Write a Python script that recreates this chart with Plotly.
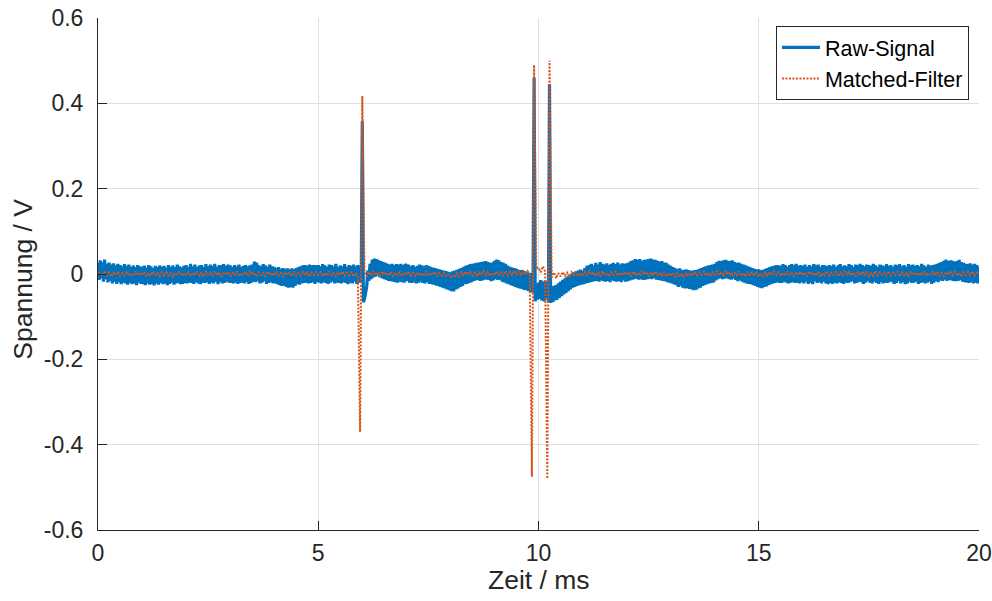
import plotly.graph_objects as go

# sample spacing of the two recordings (ms)
dt_raw_ms = 0.025
dt_mf_ms = 0.05

# Raw signal in mV, one row per 0.5 ms (20 samples / row), last sample at 20 ms
raw_mv = [
    26, -14, 32, -10, 28, -18, 34, -12, 24, -20, 27, -16, 22, -22, 25, -18, 20, -23, 24, -19,
    21, -24, 18, -20, 23, -22, 19, -25, 22, -21, 17, -24, 20, -22, 16, -26, 21, -20, 18, -23,
    17, -24, 20, -26, 15, -22, 21, -25, 18, -23, 14, -27, 19, -22, 16, -25, 20, -21, 17, -24,
    19, -22, 15, -26, 21, -23, 17, -20, 20, -25, 16, -22, 22, -21, 18, -24, 15, -23, 19, -21,
    21, -22, 17, -20, 24, -21, 18, -23, 22, -19, 16, -22, 20, -24, 21, -20, 17, -21, 23, -19,
    18, -23, 22, -20, 19, -22, 24, -18, 17, -24, 21, -19, 20, -22, 23, -21, 19, -18, 22, -20,
    20, -21, 17, -22, 21, -20, 18, -23, 22, -21, 17, -20, 19, -22, 21, -19, 18, -23, 20, -21,
    22, -18, 29, -19, 27, -17, 21, -22, 18, -20, 23, -17, 20, -23, 17, -21, 22, -19, 18, -22,
    17, -22, 14, -24, 16, -26, 12, -28, 14, -27, 12, -30, 13, -32, 11, -31, 13, -32, 11, -28,
    14, -24, 16, -25, 18, -22, 20, -21, 21, -20, 19, -22, 22, -21, 20, -19, 21, -23, 20, -19,
    21, -20, 18, -22, 23, -19, 20, -21, 17, -23, 22, -20, 21, -18, 18, -22, 24, -20, 17, -21,
    20, -22, 18, -19, 23, -21, 17, -24, 21, -20, 19, -22, 22, -18, 18, -23, 21, -20, 17, -21,
    358, -66, -58, -44, -30, 8, -16, 24, -12, 34, -8, 36, -6, 35, -4, 32, -8, 30, -10, 28,
    -12, 26, -14, 24, -16, 22, -17, 24, -18, 21, -19, 23, -20, 22, -18, 24, -19, 21, -20, 23,
    20, -17, 22, -20, 18, -21, 21, -19, 17, -22, 19, -20, 22, -18, 20, -21, 18, -22, 21, -19,
    19, -23, 17, -24, 15, -25, 14, -27, 12, -28, 11, -30, 9, -32, 8, -34, 7, -36, 5, -38,
    4, -40, 6, -41, 8, -36, 10, -34, 12, -30, 14, -28, 17, -24, 19, -23, 21, -21, 23, -19,
    24, -17, 25, -15, 26, -14, 27, -16, 28, -15, 29, -13, 30, -13, 28, -14, 26, -17, 27, -15,
    31, -12, 34, -14, 32, -13, 28, -18, 26, -20, 24, -22, 20, -24, 17, -26, 15, -28, 14, -30,
    12, -32, 10, -34, 9, -35, 7, -37, 6, -38, 4, -40, 3, -42, 2, -44, 460, -64, -40, -60,
    -20, -58, -14, -62, -18, -64, -16, -60, -20, -64, 445, -68, -30, -66, -28, -62, -26, -60, -22, -56,
    -18, -52, -14, -48, -10, -44, -6, -40, -2, -36, 0, -32, 4, -30, 6, -28, 8, -26, 10, -25,
    8, -24, 14, -22, 19, -21, 21, -19, 24, -18, 20, -17, 26, -16, 22, -18, 28, -15, 24, -17,
    22, -18, 25, -16, 21, -19, 24, -15, 26, -17, 23, -18, 27, -16, 22, -19, 25, -15, 24, -18,
    25, -17, 27, -15, 30, -13, 32, -12, 35, -11, 33, -13, 35, -12, 31, -14, 33, -13, 34, -12,
    35, -11, 36, -12, 34, -10, 33, -13, 31, -14, 29, -15, 30, -16, 27, -17, 26, -19, 22, -20,
    19, -22, 16, -24, 14, -26, 11, -30, 13, -28, 10, -32, 9, -34, 11, -33, 9, -35, 8, -36,
    8, -38, 9, -37, 10, -34, 12, -32, 14, -28, 16, -26, 18, -24, 20, -22, 21, -21, 22, -20,
    24, -15, 28, -12, 31, -10, 30, -12, 32, -11, 33, -10, 31, -12, 30, -13, 32, -11, 28, -14,
    26, -17, 27, -15, 24, -18, 22, -20, 20, -22, 18, -23, 16, -24, 14, -26, 12, -28, 11, -30,
    11, -32, 9, -33, 10, -30, 12, -29, 14, -26, 16, -24, 18, -22, 19, -21, 21, -19, 20, -21,
    19, -21, 23, -18, 21, -20, 17, -22, 21, -20, 23, -19, 20, -21, 24, -20, 19, -22, 21, -19,
    19, -22, 22, -18, 17, -23, 21, -20, 18, -24, 23, -17, 20, -21, 22, -19, 17, -22, 21, -18,
    20, -22, 18, -24, 21, -21, 19, -23, 22, -20, 17, -22, 20, -19, 23, -21, 18, -23, 20, -20,
    18, -21, 23, -19, 21, -17, 17, -22, 22, -21, 20, -18, 24, -19, 21, -23, 18, -20, 22, -17,
    21, -20, 19, -22, 24, -18, 20, -21, 17, -23, 22, -19, 20, -22, 18, -20, 23, -21, 19, -18,
    21, -19, 17, -23, 22, -21, 20, -17, 23, -22, 18, -19, 21, -24, 17, -22, 23, -18, 20, -21,
    22, -20, 19, -18, 21, -23, 18, -21, 24, -19, 20, -22, 17, -20, 22, -18, 19, -23, 21, -20,
    22, -17, 24, -19, 26, -15, 28, -16, 31, -13, 34, -16, 30, -14, 32, -15, 31, -16, 29, -17,
    30, -16, 33, -14, 28, -18, 26, -19, 24, -20, 23, -21, 25, -19, 22, -22, 24, -20, 21, -22,
    17,
]

# Matched-filter output in mV, one row per millisecond (20 samples / row)
mf_mv = [
    5, 2, -4, 6, -3, 4, -6, 3, -2, 5, -5, 2, -3, 6, -4, 1, -5, 4, -2, 3,
    -3, 5, -6, 2, -4, 6, -2, 3, -5, 4, -3, 7, -4, 2, -6, 3, -1, 5, -4, 2,
    -2, 4, -5, 3, -3, 6, -4, 2, -6, 5, -2, 3, -4, 6, -3, 4, -5, 2, -1, 5,
    -4, 3, -2, 6, -5, 2, -3, 5, -4, 7, -2, 3, -6, 4, -3, 2, -5, 6, -2, 3,
    -4, 5, -3, 2, -6, 4, -2, 3, -5, 6, -3, 2, -4, 5, -2, 4, -6, 3, -3, 5,
    -2, 4, -5, 3, -4, 6, -3, 2, -5, 4, -2, 6, -4, 3, -3, 5, -6, 2, -4, -370,
    417, 8, -6, 5, -4, 7, -3, 4, -5, 6, -2, 3, -4, 5, -6, 2, -3, 4, -5, 3,
    -2, 5, -4, 3, -6, 4, -3, 2, -5, 6, -4, 3, -2, 5, -6, 2, -4, 3, -5, -2,
    -7, -3, -8, 2, -5, 4, -3, 6, -2, 5, -4, 3, -6, 4, -2, 6, -3, 5, -4, 2,
    -3, 6, -2, 4, -5, 7, -3, 5, -2, 8, -1, 6, -4, 9, -2, 7, 0, -475, 490, 12,
    15, 4, 18, 6, -480, 500, -8, 4, -10, 2, -6, 5, -4, 3, -7, 4, -3, 6, -5, 2,
    -4, 5, -3, 6, -2, 4, -5, 3, -4, 7, -3, 2, -5, 4, -2, 6, -4, 3, -3, 5,
    -2, 4, -5, 6, -3, 3, -4, 7, -2, 5, -6, 4, -3, 6, -2, 3, -4, 5, -6, 2,
    -4, 3, -6, 2, -7, 1, -8, 3, -5, 2, -4, 5, -3, 4, -2, 6, -4, 3, -5, 4,
    -2, 6, -3, 5, -4, 7, -2, 4, -5, 3, -3, 6, -4, 2, -6, 5, -3, 4, -2, 3,
    -6, 2, -7, 3, -4, 5, -3, 6, -2, 4, -5, 3, -4, 6, -3, 2, -5, 4, -2, 5,
    -3, 4, -5, 6, -2, 3, -4, 5, -6, 2, -3, 7, -4, 3, -2, 5, -5, 4, -3, 6,
    -2, 5, -4, 3, -6, 4, -3, 6, -2, 5, -5, 2, -4, 7, -3, 4, -2, 3, -5, 6,
    -4, 3, -2, 5, -6, 4, -3, 2, -5, 6, -2, 4, -4, 3, -3, 6, -5, 2, -2, 5,
    -3, 6, -4, 2, -5, 4, -2, 7, -3, 5, -4, 3, -6, 4, -2, 5, -3, 6, -4, 3,
    2,
]

series_names = ["Raw-Signal", "Matched-Filter"]
x_title = "Zeit / ms"
y_title = "Spannung / V"
x_tick_vals = [0, 5, 10, 15, 20]
x_tick_text = ["0", "5", "10", "15", "20"]
y_tick_vals = [-0.6, -0.4, -0.2, 0, 0.2, 0.4, 0.6]
y_tick_text = ["-0.6", "-0.4", "-0.2", "0", "0.2", "0.4", "0.6"]

t_raw = [i * dt_raw_ms for i in range(len(raw_mv))]
t_mf = [i * dt_mf_ms for i in range(len(mf_mv))]
raw_v = [v / 1000 for v in raw_mv]
mf_v = [v / 1000 for v in mf_mv]

FONT = "Liberation Sans, Arial, Helvetica, sans-serif"
TXT = "#262626"
GRID = "#DFDFDF"

fig = go.Figure()
fig.add_trace(go.Scatter(
    x=t_raw, y=raw_v, mode="lines", name=series_names[0],
    line=dict(color="#0072BD", width=3.2, simplify=False),
))
fig.add_trace(go.Scatter(
    x=t_mf, y=mf_v, mode="lines", name=series_names[1],
    line=dict(color="#D95319", width=2, dash="2px,1.5px", simplify=False),
))

fig.update_layout(
    width=992, height=601,
    margin=dict(l=98, r=13, t=18, b=71, autoexpand=False),
    paper_bgcolor="white", plot_bgcolor="white",
    font=dict(family=FONT, color=TXT, size=23),
    showlegend=True,
    legend=dict(
        x=0.9886, y=0.9844, xanchor="right", yanchor="top",
        bgcolor="white", bordercolor=TXT, borderwidth=1,
        font=dict(size=21.5, color="#000000"),
        tracegroupgap=0, itemwidth=38,
    ),
    annotations=[
        dict(text=x_title, xref="paper", yref="paper", x=0.5, y=-0.0977,
             xanchor="center", yanchor="middle", showarrow=False,
             font=dict(size=26.5, color=TXT)),
        dict(text=y_title, xref="paper", yref="paper", x=-0.0845, y=0.49,
             xanchor="center", yanchor="middle", showarrow=False, textangle=-90,
             font=dict(size=26.5, color=TXT)),
    ],
)
fig.update_xaxes(
    range=[0, 20], tickvals=x_tick_vals, ticktext=x_tick_text, automargin=False,
    showgrid=True, gridcolor=GRID, gridwidth=1, zeroline=False,
    showline=True, linecolor=TXT, linewidth=1, mirror=False,
    ticks="inside", ticklen=9, tickcolor=TXT, tickwidth=1,
    ticklabelstandoff=2,
)
fig.update_yaxes(
    range=[-0.6, 0.6], tickvals=y_tick_vals, ticktext=y_tick_text, automargin=False,
    showgrid=True, gridcolor=GRID, gridwidth=1, zeroline=False,
    showline=True, linecolor=TXT, linewidth=1, mirror=False,
    ticks="inside", ticklen=9, tickcolor=TXT, tickwidth=1,
    ticklabelstandoff=9,
)

fig.write_html("out.html")
